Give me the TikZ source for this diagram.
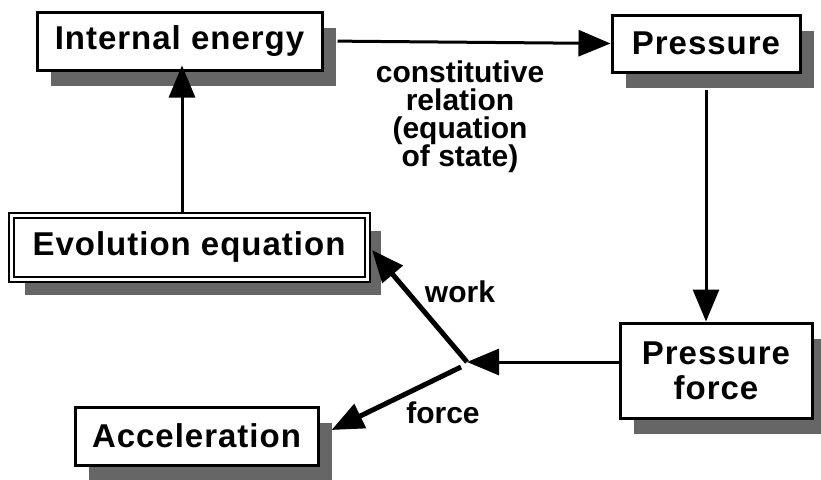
\documentclass[tikz,border=0pt]{standalone}
\usepackage{fontspec}
\setmainfont{Liberation Sans}
\newfontfamily\boxfont[LetterSpace=3]{Liberation Sans}
\usetikzlibrary{arrows.meta,shadows}
\begin{document}
\begin{tikzpicture}[x=1pt,y=-1pt,
    box/.style={draw,line width=3pt,fill=white,inner sep=0pt,align=center,
      font=\boxfont\fontsize{33}{35}\selectfont\bfseries,
      drop shadow={shadow xshift=14pt,shadow yshift=-16pt,fill=black!60,opacity=1}},
    lbl/.style={align=center,inner sep=0pt,font=\fontsize{30}{28}\selectfont\bfseries},
    flow/.style={line width=3pt,-{Triangle[length=32pt,width=26pt]}},
    split/.style={line width=5pt,-{Triangle[length=32pt,width=26pt]}}]
  \useasboundingbox (0,0) rectangle (821,479);
  \draw
    (179.5,41) node[box,minimum width=285pt,minimum height=58pt] (ie){Internal energy}
    (706,43.5) node[box,minimum width=188pt,minimum height=57pt] (pr){Pressure}
    (716,370.5) node[box,minimum width=192pt,minimum height=95pt] (pf){Pressure\\force}
    (196.5,436) node[box,minimum width=243pt,minimum height=58pt] (ac){Acceleration}
    (189,247) node[box,line width=2pt,double,double distance=3pt,
      minimum width=356pt,minimum height=64pt] (ev){Evolution equation};
  \coordinate (j) at (467,362);
  \coordinate (k) at (461,367);
  \node[lbl] (rel) at (460,117) {constitutive\\relation\\(equation\\of state)};
  \node[lbl,anchor=base] (wk) at (460,302) {work};
  \node[lbl,anchor=base] (fc) at (443,423) {force};
  \begin{scope}[line cap=butt]
    \draw[flow,shorten <=14pt] (ie.east) -- (pr.west);
    \draw[flow,shorten <=16pt] (pr.south) -- (pr.south |- pf.north);
    \draw[flow,shorten >=-6pt] ([xshift=-7pt]ev.north) -- ([xshift=-7pt]ev.north |- ie.south);
    \draw[flow] (pf.west |- j) -- (j);
    \draw[split] (j) -- ([xshift=4pt,yshift=-3pt]ev.east);
    \draw[split] (k) -- ([xshift=12pt,yshift=6pt]ac.east);
  \end{scope}
\end{tikzpicture}
\end{document}
